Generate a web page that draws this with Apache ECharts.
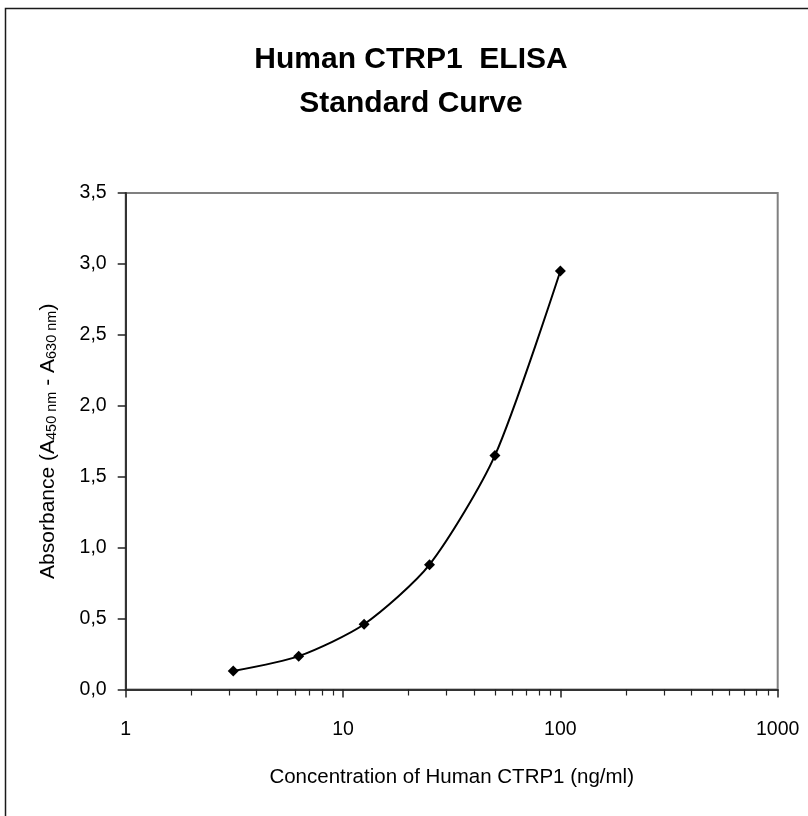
<!DOCTYPE html>
<html>
<head>
<meta charset="utf-8">
<script src="https://cdn.jsdelivr.net/npm/echarts@6/dist/echarts.min.js"></script>
<style>
html,body{margin:0;padding:0;background:#fff;}
#chart{width:808px;height:816px;}
</style>
</head>
<body>
<div id="chart"></div>
<script>
// Data
const concentrations = [3.125, 6.25, 12.5, 25, 50, 100];
const absorbance = [0.13, 0.235, 0.46, 0.88, 1.65, 2.95];
const xTickLabels = [1, 10, 100, 1000];
const yTickValues = [0, 0.5, 1.0, 1.5, 2.0, 2.5, 3.0, 3.5];
const titleLines = ['Human CTRP1  ELISA', 'Standard Curve'];
const xAxisName = 'Concentration of Human CTRP1 (ng/ml)';

const FONT = '"Liberation Sans", Arial, sans-serif';
const chart = echarts.init(document.getElementById('chart'), null, {renderer: 'canvas'});

const titleStyle = {
  fontFamily: FONT,
  fontWeight: 'bold',
  fontSize: 30,
  fill: '#000',
  textAlign: 'center',
  textVerticalAlign: 'middle'
};

const option = {
  backgroundColor: '#ffffff',
  animation: false,
  graphic: [{
    type: 'rect',
    shape: {x: 5.5, y: 8.5, width: 900, height: 900},
    style: {fill: 'none', stroke: '#1a1a1a', lineWidth: 1.5},
    silent: true
  }, {
    type: 'text',
    x: 411, y: 60,
    style: Object.assign({text: titleLines[0]}, titleStyle),
    silent: true
  }, {
    type: 'text',
    x: 411, y: 104,
    style: Object.assign({text: titleLines[1]}, titleStyle),
    silent: true
  }],
  grid: {
    left: 125.7,
    right: 30.3,
    top: 193,
    bottom: 126.5,
    show: true,
    borderColor: '#808080',
    borderWidth: 2,
    backgroundColor: 'transparent'
  },
  xAxis: {
    type: 'log',
    logBase: 10,
    min: xTickLabels[0],
    max: xTickLabels[xTickLabels.length - 1],
    name: xAxisName,
    nameLocation: 'middle',
    nameGap: 77,
    nameTextStyle: {fontFamily: FONT, fontSize: 20.5, color: '#000'},
    axisLine: {show: true, lineStyle: {color: '#333', width: 2}},
    axisTick: {show: true, inside: false, length: 8, lineStyle: {color: '#222', width: 1.5}},
    minorTick: {show: true, splitNumber: 9, length: 6, lineStyle: {color: '#222', width: 1.2}},
    axisLabel: {
      margin: 30,
      fontFamily: FONT,
      fontSize: 19.5,
      color: '#000',
      formatter: v => String(v)
    },
    splitLine: {show: false},
    minorSplitLine: {show: false}
  },
  yAxis: {
    type: 'value',
    min: yTickValues[0],
    max: yTickValues[yTickValues.length - 1],
    interval: 0.5,
    name: '{n|Absorbance (A}{s|450 nm}{n| - A}{s|630 nm}{n|)}',
    nameLocation: 'middle',
    nameRotate: 90,
    nameGap: 66,
    nameTextStyle: {
      rich: {
        n: {fontFamily: FONT, fontSize: 21, color: '#000'},
        s: {fontFamily: FONT, fontSize: 14.5, color: '#000', padding: [7, 0, 0, 0]}
      }
    },
    axisLine: {show: true, lineStyle: {color: '#333', width: 2}},
    axisTick: {show: true, inside: false, length: 8, lineStyle: {color: '#222', width: 1.5}},
    axisLabel: {
      margin: 19,
      fontFamily: FONT,
      fontSize: 19.5,
      color: '#000',
      formatter: v => v.toFixed(1).replace('.', ',')
    },
    splitLine: {show: false}
  },
  series: [{
    type: 'line',
    data: concentrations.map((c, i) => [c, absorbance[i]]),
    smooth: 0.25,
    symbol: 'diamond',
    symbolSize: 11,
    itemStyle: {color: '#000'},
    lineStyle: {color: '#000', width: 2}
  }]
};
chart.setOption(option);
</script>
</body>
</html>
